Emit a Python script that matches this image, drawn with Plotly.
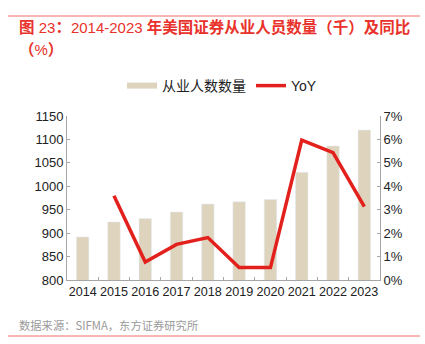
import plotly.graph_objects as go

years = ["2014", "2015", "2016", "2017", "2018", "2019", "2020", "2021", "2022", "2023"]
employees = [892, 924, 931, 945, 962, 967, 972, 1030, 1086, 1120]
yoy = [None, 0.036, 0.0077, 0.0152, 0.0181, 0.0053, 0.0053, 0.0597, 0.0544, 0.0313]

W, H = 425, 344
L, R, T, B = 67, 45, 116, 64
pw, ph = W - L - R, H - T - B

def px(x):
    return (x - L) / pw

def py(y):
    return (H - B - y) / ph

BEIGE = "#DED4BD"
RED = "#E3211C"
FONT = "Liberation Sans, Arial, Noto Sans CJK SC"

fig = go.Figure()
fig.add_trace(go.Bar(x=years, y=employees, marker_color=BEIGE, width=0.4,
                     showlegend=False, name="从业人数数量"))
fig.add_trace(go.Scatter(x=[None], y=[None], mode="lines", name="从业人数数量",
                         line=dict(color=BEIGE, width=6)))
fig.add_trace(go.Scatter(x=years, y=yoy, mode="lines", name="YoY", yaxis="y2",
                         line=dict(color=RED, width=3.5)))

axis_common = dict(showgrid=False, zeroline=False, showline=True, linecolor="#A6A6A6",
                   linewidth=1, ticks="inside", ticklen=3, tickcolor="#A6A6A6",
                   tickfont=dict(family=FONT, size=13, color="#222"))

fig.update_layout(
    width=W, height=H,
    margin=dict(l=L, r=R, t=T, b=B),
    paper_bgcolor="white", plot_bgcolor="white",
    font=dict(family=FONT),
    xaxis=dict(type="category", tickson="boundaries", tickangle=0, **axis_common),
    yaxis=dict(range=[800, 1150], dtick=50, **axis_common),
    yaxis2=dict(range=[0, 0.07], dtick=0.01, tickformat=".0%", overlaying="y",
                side="right", **axis_common),
    legend=dict(orientation="h", x=px(222), xanchor="center", y=py(86), yanchor="middle",
                font=dict(family=FONT, size=14, color="#222"), itemwidth=30,
                bgcolor="rgba(0,0,0,0)", traceorder="normal"),
    bargap=0.6,
)
fig.update_xaxes(tickfont=dict(size=12.6))

TITLE_FONT = dict(family="Liberation Sans, Noto Sans CJK SC", size=15.5, color="#E8322B")
num = lambda s: '<span style="font-size:15px">' + s + '</span>'
title1 = ("<b>图</b>" + num(" 23") + "<b>：</b>" + num("2014-2023 ")
          + "<b>年美国证券从业人员数量（千）及同比</b>")
fig.add_annotation(xref="paper", yref="paper", x=px(17), y=py(27), xanchor="left",
                   yanchor="middle", showarrow=False, text=title1, font=TITLE_FONT)
fig.add_annotation(xref="paper", yref="paper", x=px(17), y=py(49), xanchor="left",
                   yanchor="middle", showarrow=False,
                   text="<b>（</b>" + num("%") + "<b>）</b>", font=TITLE_FONT)
fig.add_annotation(xref="paper", yref="paper", x=px(17), y=py(325), xanchor="left",
                   yanchor="middle", showarrow=False,
                   text="数据来源：SIFMA，东方证券研究所",
                   font=dict(family="Noto Sans CJK SC", size=11.3, color="#9A9A9A"))

for yy in (16, 336):
    fig.add_shape(type="line", xref="paper", yref="paper", x0=px(8), x1=px(420),
                  y0=py(yy), y1=py(yy), line=dict(color="#EF6F6A", width=1))

fig.write_html("out.html")
